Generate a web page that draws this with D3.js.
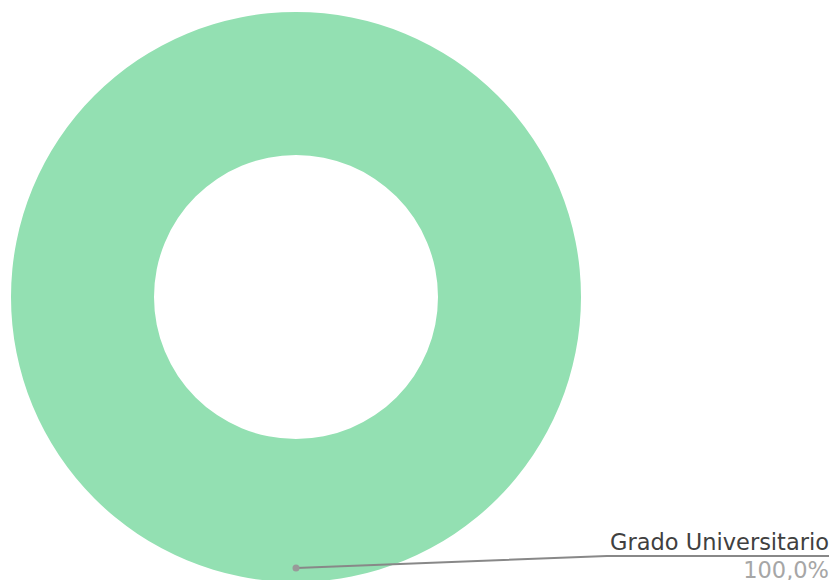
<!DOCTYPE html>
<html>
<head>
<meta charset="utf-8">
<script src="https://cdn.jsdelivr.net/npm/d3@7"></script>
<style>
  body { margin: 0; background: #fff; }
  svg { display: block; }
</style>
</head>
<body>
<svg></svg>
<script>
const width = 833,
  height = 580;

// Data
const categories = ["Grado Universitario"];
const values = [100];
const colors = ["#93e0b2"];

const cx = 296,
  cy = 297,
  outerR = 285,
  innerR = 142;

const svg = d3.select("svg")
  .attr("width", width)
  .attr("height", height);

const g = svg.append("g")
  .attr("transform", "translate(" + cx + "," + cy + ")");

const pie = d3.pie().sort(null).value(d => d);
const arcs = pie(values);
const arcGen = d3.arc().innerRadius(innerR).outerRadius(outerR);

g.selectAll("path.slice")
  .data(arcs)
  .enter()
  .append("path")
  .attr("class", "slice")
  .attr("d", arcGen)
  .attr("fill", (d, i) => colors[i]);

const total = d3.sum(values);
const fmt = v => d3.format(".1f")(v).replace(".", ",") + "%";

// Label with leader line (anchored near the bottom of the ring)
arcs.forEach((d, i) => {
  const ax = cx, ay = cy + 271;
  const elbowX = 607, lineY = 556, endX = 829;
  svg.append("path")
    .attr("d", "M" + ax + "," + ay + "L" + elbowX + "," + lineY + "L" + endX + "," + lineY)
    .attr("fill", "none")
    .attr("stroke", "#888")
    .attr("stroke-width", 2);
  svg.append("circle")
    .attr("cx", ax)
    .attr("cy", ay)
    .attr("r", 3.5)
    .attr("fill", "#999");
  svg.append("text")
    .attr("x", endX)
    .attr("y", lineY - 6)
    .attr("text-anchor", "end")
    .attr("font-family", "'DejaVu Sans', Verdana, sans-serif")
    .attr("font-size", 22.5)
    .attr("fill", "#404040")
    .text(categories[i]);
  svg.append("text")
    .attr("x", endX)
    .attr("y", lineY + 22)
    .attr("text-anchor", "end")
    .attr("font-family", "'DejaVu Sans', Verdana, sans-serif")
    .attr("font-size", 22.5)
    .attr("fill", "#a6a6a6")
    .text(fmt(values[i] / total * 100));
});
</script>
</body>
</html>
